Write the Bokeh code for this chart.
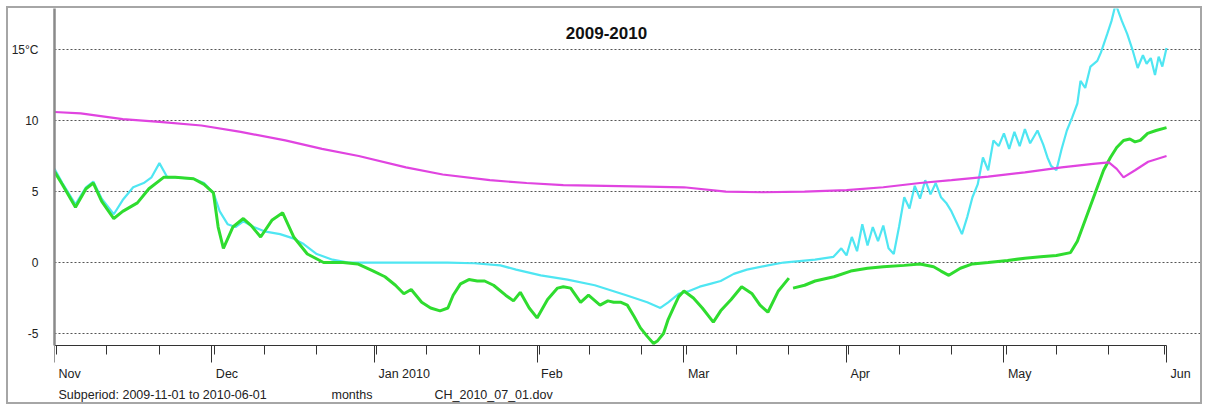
import pandas as pd
from bokeh.plotting import figure
from bokeh.models import Range1d, FixedTicker, Label
from bokeh.embed import file_html
from bokeh.resources import INLINE

# ---------------- data ----------------
start_date = "2009-11-01"
end_date = "2010-06-01"
title_text = "2009-2010"

month_starts = ["2009-11-01", "2009-12-01", "2010-01-01", "2010-02-01",
                "2010-03-01", "2010-04-01", "2010-05-01", "2010-06-01"]
month_labels = ["Nov", "Dec", "Jan 2010", "Feb", "Mar", "Apr", "May", "Jun"]

y_ticks = [-5, 0, 5, 10, 15]
y_labels = ["-5", "0", "5", "10", "15°C"]
y_axis_min = -5.85
y_axis_max = 17.89

# days since 2009-11-01, values in °C
green_days = [0, 1.5, 4, 6, 7.4, 9, 11.3, 13, 15.8, 18, 20.8, 23, 26.5, 28.5, 30.3,
              31.2, 32.2, 34, 36, 37.5, 39.3, 41.5, 43.5, 45.6, 48.2, 51.3, 55, 57.8,
              60.8, 63, 65, 66.6, 68, 70, 71.7, 73.5, 75, 76, 77.4, 79, 80.6, 82, 83.7,
              86, 87.5, 88.8, 90.5, 92, 94, 95.9, 97, 98.4, 100.3, 101.8, 104, 105.5,
              106.6, 108, 109.2, 110.5, 111.7, 113, 114.2, 115, 116.1, 117, 118, 119,
              120, 121.8, 123.5, 125.6, 127, 129, 131, 133, 134.5, 136, 138, 140, 140.4,
              140.8, 143, 145, 148.6, 151.8, 155, 158, 162, 165, 167.6, 169, 170.5, 172.7,
              175, 178, 181.7, 185, 188, 191, 193.7, 195, 196.5, 198.8, 200, 201.3,
              202.5, 203.8, 205, 206, 207, 208.4, 210, 212]
green_vals = [6.4, 5.5, 3.9, 5.2, 5.6, 4.3, 3.1, 3.6, 4.2, 5.2, 6.0, 6.0, 5.9, 5.5, 4.9,
              2.5, 1.0, 2.5, 3.1, 2.6, 1.8, 3.0, 3.5, 1.8, 0.6, 0.0, 0.0, -0.1,
              -0.6, -1.0, -1.6, -2.2, -1.9, -2.8, -3.2, -3.4, -3.2, -2.3, -1.5, -1.2, -1.3, -1.3, -1.6,
              -2.3, -2.7, -2.1, -3.2, -3.9, -2.6, -1.8, -1.7, -1.8, -2.8, -2.3, -3.0, -2.7,
              -2.8, -2.8, -3.0, -3.8, -4.6, -5.2, -5.7, -5.5, -5.0, -4.0, -3.2, -2.4,
              -2.0, -2.5, -3.2, -4.2, -3.4, -2.6, -1.7, -2.2, -3.0, -3.5, -2.0, -1.1, float("nan"),
              -1.8, -1.6, -1.3, -1.0, -0.6, -0.4, -0.3, -0.2, -0.1, -0.3, -0.6, -0.9, -0.4,
              -0.1, 0.0, 0.15, 0.3, 0.4, 0.5, 0.7, 1.5, 3.0, 5.3, 6.5, 7.4,
              8.1, 8.6, 8.7, 8.5, 8.6, 9.1, 9.3, 9.5]

cyan_days = [0, 1.5, 4, 6, 7.4, 9, 11.3, 13, 15, 17, 18.5, 20, 21.5, 23, 26.5, 28.5, 30.3,
             31.5, 33, 34.5, 36, 38, 40, 43, 45.5, 47.5, 50, 53, 56, 60, 65, 70, 75, 80,
             85, 88, 92.7, 97.8, 103, 109, 113, 115.5, 117, 119, 121, 123, 125, 127,
             129.5, 132, 136, 139, 142, 145, 148.5, 150, 151, 152, 153, 154, 155, 156,
             157, 158, 159, 160, 161, 162, 163, 164, 165, 166, 167, 168, 169, 170, 171,
             172, 173, 174, 175, 176, 177, 178, 179, 180, 181, 182, 183, 184, 185, 186,
             187.4, 188.5, 189.3, 190, 191, 192, 193, 194, 195, 195.6, 196.5, 197.5,
             198.8, 199.5, 200.7, 201.5, 202.3, 203.5, 204.5, 205.5, 206.5, 207.5,
             208.2, 209, 209.8, 210.5, 211.2, 212]
cyan_vals = [6.6, 5.6, 4.1, 5.3, 5.7, 4.5, 3.4, 4.4, 5.3, 5.6, 6.0, 7.0, 6.0, 6.0, 5.9, 5.6, 4.9,
             3.6, 2.7, 2.5, 2.9, 2.5, 2.2, 2.0, 1.7, 1.3, 0.6, 0.2, 0.0, 0.0, 0.0, 0.0, 0.0, -0.05,
             -0.2, -0.5, -0.9, -1.2, -1.6, -2.3, -2.8, -3.2, -2.8, -2.2, -2.0, -1.7, -1.5, -1.3,
             -0.8, -0.5, -0.2, 0.0, 0.1, 0.2, 0.4, 1.0, 0.5, 1.8, 0.8, 2.7, 1.2, 2.5,
             1.5, 2.6, 1.0, 0.6, 2.5, 4.6, 3.8, 5.4, 4.5, 5.8, 4.8, 5.6, 4.6, 4.2, 3.6,
             2.8, 2.0, 3.2, 4.6, 5.5, 7.4, 6.5, 8.6, 8.2, 9.1, 8.0, 9.2, 8.2, 9.4, 8.4,
             9.3, 8.3, 7.4, 6.8, 6.5, 8.0, 9.3, 10.2, 11.2, 12.8, 12.3, 13.8,
             14.2, 14.8, 16.1, 17.0, 18.2, 17.0, 16.1, 15.0, 13.7, 14.6,
             14.0, 14.4, 13.2, 14.5, 13.8, 15.1]

magenta_days = [0, 5, 13, 20, 28, 35.5, 44, 51, 58, 67, 74, 83, 90, 97, 105, 113, 120,
                128, 135, 143, 151, 158, 165, 171, 178, 185, 192, 198, 201, 202.5, 203.8,
                206, 208.5, 212]
magenta_vals = [10.6, 10.5, 10.1, 9.9, 9.65, 9.2, 8.6, 8.0, 7.5, 6.7, 6.2, 5.8, 5.6, 5.45,
                5.4, 5.35, 5.3, 5.0, 4.95, 5.0, 5.1, 5.3, 5.6, 5.8, 6.05, 6.35, 6.7, 6.95,
                7.05, 6.6, 6.0, 6.5, 7.1, 7.5]

subperiod_text = "Subperiod: 2009-11-01 to 2010-06-01"
unit_text = "months"
file_text = "CH_2010_07_01.dov"

# ---------------- helpers ----------------
t0 = pd.Timestamp(start_date)
t1 = pd.Timestamp(end_date)


def to_dates(days):
    return [t0 + pd.Timedelta(days=d) for d in days]


def ms(ts):
    return int(pd.Timestamp(ts).value // 10**6)


FONT = "Liberation Sans"
W, H = 1196, 398
BORDER_LEFT = 45
AXIS_PX = 1113            # pixel length of the time axis (Nov 1 .. Jun 1)
PX_PER_UNIT = 14.2
# frame reaches the canvas bottom and right edge; the axes are bounded inside it
y_bottom = y_axis_max - H / PX_PER_UNIT
span_days = (t1 - t0).days
x_end = t0 + pd.Timedelta(days=span_days * (W - BORDER_LEFT) / AXIS_PX)

p = figure(width=W, height=H, x_axis_type="datetime",
           x_range=Range1d(t0, x_end),
           y_range=Range1d(y_bottom, y_axis_max),
           output_backend="svg", toolbar_location=None,
           min_border_left=BORDER_LEFT, min_border_right=0, min_border_top=0,
           min_border_bottom=0)
p.title.visible = False
p.styles = {"border": "2px solid #a6a6a6", "margin": "6px 0 0 6px"}
p.outline_line_color = None
p.background_fill_color = "white"
p.border_fill_color = "white"

# lines
p.line(to_dates(cyan_days), cyan_vals, line_color="#4fe6f2", line_width=2.2)
p.line(to_dates(green_days), green_vals, line_color="#2fdc2f", line_width=3)
p.line(to_dates(magenta_days), magenta_vals, line_color="#e044e0", line_width=2.2)

# x axis
major = [ms(m) for m in month_starts]
minor = []
for m in month_starts[:-1]:
    base = pd.Timestamp(m)
    for d in (0.45, 10, 20):
        minor.append(ms(base + pd.Timedelta(days=d)))
minor.append(ms(t1 - pd.Timedelta(days=0.45)))
xa = p.xaxis[0]
xa.fixed_location = y_axis_min
xa.bounds = (ms(t0), ms(t1))
xa.ticker = FixedTicker(ticks=major, minor_ticks=minor)
xa.major_label_overrides = {t: "" for t in major}
xa.major_tick_out = 17
xa.major_tick_in = 0
xa.minor_tick_out = 9
xa.minor_tick_in = 0
xa.axis_line_color = "#333333"
xa.major_tick_line_color = "#333333"
xa.minor_tick_line_color = "#333333"
xa.major_label_text_font_size = "1px"

# y axis
ya = p.yaxis[0]
ya.bounds = (y_axis_min, y_axis_max)
ya.ticker = FixedTicker(ticks=y_ticks, minor_ticks=[])
ya.major_label_overrides = {t: lab for t, lab in zip(y_ticks, y_labels)}
ya.major_tick_out = 0
ya.major_tick_in = 0
ya.minor_tick_out = 0
ya.axis_line_color = "#8a8a8a"
ya.axis_line_width = 2.5
ya.major_label_standoff = 16
ya.major_label_text_font = FONT
ya.major_label_text_font_size = "12px"
ya.major_label_text_color = "#222222"

# grid (only across the time axis)
p.xgrid.visible = False
p.ygrid.ticker = FixedTicker(ticks=y_ticks)
p.ygrid.bounds = (ms(t0), ms(t1))
p.ygrid.grid_line_color = "#555555"
p.ygrid.grid_line_dash = "2 2"
p.ygrid.grid_line_width = 1

# month labels (left aligned after tick); screen y measured from frame bottom
for m, lab in zip(month_starts, month_labels):
    p.add_layout(Label(x=ms(m), y=33, x_units="data", y_units="screen", text=lab,
                       x_offset=4, text_align="left", text_baseline="middle",
                       text_font=FONT, text_font_size="12.5px", text_color="#222222"))

# title
p.add_layout(Label(x=552, y=374, x_units="screen", y_units="screen", text=title_text,
                   text_align="center", text_baseline="middle", text_font=FONT,
                   text_font_size="17px", text_font_style="bold", text_color="#111111"))

# footer texts
for tx, xs in ((subperiod_text, 4), (unit_text, 277), (file_text, 380)):
    p.add_layout(Label(x=xs, y=12, x_units="screen", y_units="screen", text=tx,
                       text_align="left", text_baseline="middle", text_font=FONT,
                       text_font_size="12.5px", text_color="#222222"))

open("out.html", "w").write(file_html(p, INLINE))
